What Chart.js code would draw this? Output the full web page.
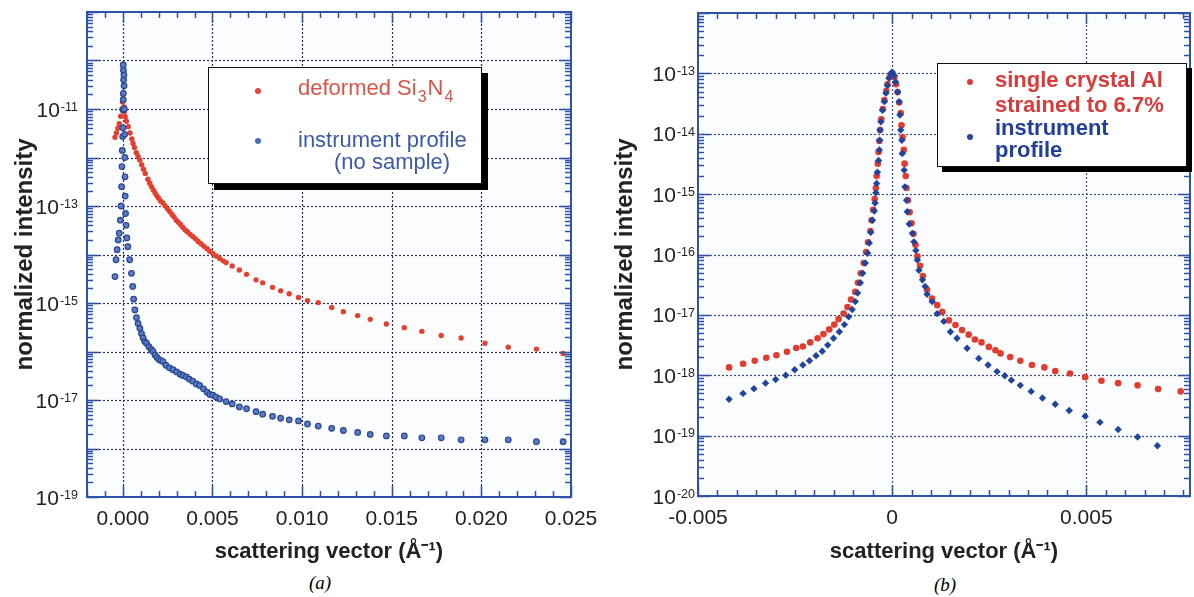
<!DOCTYPE html>
<html><head><meta charset="utf-8">
<script src="https://cdn.jsdelivr.net/npm/chart.js@4.4.1/dist/chart.umd.min.js"></script>
<style>
body{margin:0;background:#fff;width:1194px;height:597px;overflow:hidden;position:relative;font-family:"Liberation Sans",Arial,sans-serif}
canvas{position:absolute;top:0}
#cA{left:0}
#cB{left:597px}
.leg{position:absolute;background:#fff;border:1.5px solid #111;box-sizing:border-box}
.leg .t{position:absolute;white-space:nowrap;line-height:24px;font-size:22px}
.leg sub{font-size:16px;vertical-align:-7px;line-height:0;padding:0 1px}
.dot{position:absolute;width:6px;height:6px;border-radius:50%;margin:-3px 0 0 -3px}
.cap{position:absolute;font-family:"Liberation Serif","Times New Roman",serif;font-style:italic;font-size:19px;line-height:20px}
</style></head><body>
<canvas id="cA" width="597" height="570"></canvas>
<canvas id="cB" width="597" height="570"></canvas>

<div class="leg" style="left:208px;top:67px;width:274px;height:117px;box-shadow:6px 6px 0 #000">
  <span class="dot" style="left:49px;top:23px;background:#e0463a"></span>
  <span class="t" style="left:89px;top:8px;color:#d9554a">deformed Si<sub>3</sub>N<sub>4</sub></span>
  <span class="dot" style="left:49px;top:73px;background:#4a6bb5"></span>
  <span class="t" style="left:89px;top:60px;color:#3c5aa6">instrument profile</span>
  <span class="t" style="left:125px;top:82px;color:#3c5aa6">(no sample)</span>
</div>

<div class="leg" style="left:937px;top:63px;width:250px;height:104px;box-shadow:5px 5px 0 #000">
  <span class="dot" style="left:32px;top:18px;background:#e03a3a"></span>
  <span class="t" style="left:57px;top:4px;color:#d93a3a;font-weight:bold">single crystal Al</span>
  <span class="t" style="left:57px;top:29px;color:#d93a3a;font-weight:bold">strained to 6.7%</span>
  <span class="dot" style="left:32px;top:73px;background:#24449a"></span>
  <span class="t" style="left:57px;top:52px;color:#22409a;font-weight:bold">instrument</span>
  <span class="t" style="left:57px;top:74px;color:#22409a;font-weight:bold">profile</span>
</div>

<div class="cap" style="left:309px;top:573px">(a)</div>
<div class="cap" style="left:934px;top:575px">(b)</div>

<script>
// ---------- Panel (a): deformed Si3N4 vs instrument profile ----------
const leftRedX = [-0.00044,-0.00036,-0.00028,-0.0002,-0.00012,-0.00005,-0.00002,0.00001,0.00004,0.00006,0.00009,0.00013,0.0002,0.0003,0.0004,0.0005,0.00057,0.00065,0.00075,0.00085,0.00094,0.00105,0.00115,0.00125,0.0014,0.0015,0.0016,0.0017,0.0018,0.0019,0.002,0.00212,0.00224,0.00236,0.0025,0.00262,0.00275,0.00286,0.00298,0.0031,0.00322,0.00335,0.00348,0.0036,0.00375,0.0039,0.00405,0.0042,0.00436,0.00452,0.0047,0.00485,0.00502,0.0052,0.0054,0.0056,0.00576,0.0061,0.0065,0.0069,0.00743,0.0078,0.00835,0.0088,0.00928,0.0098,0.0103,0.0109,0.01165,0.0123,0.0131,0.0138,0.0147,0.0157,0.01668,0.01776,0.01887,0.0202,0.0215,0.02307,0.02456];
const leftRedY = [2.6e-12,3.2e-12,4.0e-12,5.0e-12,7.1e-12,1.0e-11,1.4e-11,2.0e-11,1.5e-11,1.1e-11,8.9e-12,6.9e-12,5.6e-12,4.3e-12,3.2e-12,2.4e-12,1.95e-12,1.6e-12,1.26e-12,1.05e-12,8.9e-13,7.1e-13,5.75e-13,4.7e-13,3.55e-13,2.95e-13,2.5e-13,2.14e-13,1.86e-13,1.62e-13,1.45e-13,1.26e-13,1.15e-13,1.0e-13,8.7e-14,7.6e-14,6.6e-14,5.9e-14,5.1e-14,4.6e-14,4.1e-14,3.6e-14,3.2e-14,2.95e-14,2.6e-14,2.35e-14,2.1e-14,1.86e-14,1.66e-14,1.48e-14,1.32e-14,1.17e-14,1.05e-14,9.3e-15,8.3e-15,7.4e-15,6.8e-15,5.8e-15,4.8e-15,3.9e-15,3.0e-15,2.6e-15,2.1e-15,1.78e-15,1.55e-15,1.3e-15,1.12e-15,1.02e-15,8.1e-16,6.6e-16,5.5e-16,4.6e-16,3.7e-16,3.1e-16,2.6e-16,2.14e-16,1.9e-16,1.48e-16,1.23e-16,1.12e-16,9.1e-17];

const leftBlueX = [-0.00044,-0.00038,-0.00032,-0.00026,-0.0002,-0.00014,-0.0001,-0.00007,-0.00005,-0.00003,-0.00001,0.0,0.00001,0.00002,0.00003,0.00004,0.00003,0.00002,0.00006,0.00007,0.00008,0.0001,0.00011,0.00012,0.00013,0.00015,0.00018,0.00022,0.00028,0.00038,0.00048,0.00055,0.0006,0.00067,0.00076,0.00085,0.00095,0.00104,0.00113,0.00122,0.00132,0.00145,0.00158,0.00168,0.0018,0.0019,0.002,0.00212,0.00224,0.0024,0.0026,0.0028,0.003,0.0032,0.00335,0.00354,0.0037,0.0039,0.0041,0.00428,0.0045,0.0047,0.00485,0.00502,0.0052,0.0054,0.00576,0.0061,0.0065,0.0069,0.00743,0.0078,0.00835,0.0088,0.00928,0.0098,0.0103,0.0109,0.01165,0.0123,0.0131,0.0138,0.0147,0.0157,0.01668,0.01776,0.01887,0.0202,0.0215,0.02307,0.02456];
const leftBlueY = [3.5e-15,7.8e-15,1.26e-14,2.0e-14,2.75e-14,5.1e-14,1.0e-13,2.5e-13,6.5e-13,1.4e-12,2.7e-12,4.1e-12,9.5e-12,1.55e-11,2.1e-11,4.0e-11,6.3e-11,8.1e-11,5.0e-11,3.0e-11,1.0e-11,3.0e-12,1.0e-12,4.0e-13,1.6e-13,7.0e-14,4.0e-14,2.2e-14,1.45e-14,7.8e-15,4.1e-15,2.2e-15,1.2e-15,7.2e-16,5.0e-16,3.8e-16,3.0e-16,2.34e-16,1.9e-16,1.6e-16,1.48e-16,1.26e-16,1.1e-16,1.0e-16,8.5e-17,7.6e-17,6.9e-17,6.5e-17,6.2e-17,5.2e-17,4.6e-17,4.2e-17,3.8e-17,3.4e-17,3.2e-17,3.0e-17,2.7e-17,2.45e-17,2.15e-17,2.0e-17,1.7e-17,1.45e-17,1.3e-17,1.26e-17,1.15e-17,1.05e-17,9.3e-18,8.3e-18,7.2e-18,6.6e-18,5.75e-18,5.1e-18,4.6e-18,4.2e-18,3.9e-18,3.7e-18,3.2e-18,2.9e-18,2.6e-18,2.35e-18,2.14e-18,1.95e-18,1.82e-18,1.82e-18,1.66e-18,1.66e-18,1.51e-18,1.51e-18,1.51e-18,1.38e-18,1.38e-18];

const leftXTicks = [0, 0.005, 0.010, 0.015, 0.020, 0.025];
const leftXLabels = ['0.000','0.005','0.010','0.015','0.020','0.025'];
const leftXGrid = [0, 0.005, 0.010, 0.015, 0.020];
const leftYTicks = [1e-19, 1e-17, 1e-15, 1e-13, 1e-11];
const leftYLabels = ['10^-19','10^-17','10^-15','10^-13','10^-11'];
const leftYGrid = [1e-18,1e-17,1e-16,1e-15,1e-14,1e-13,1e-12,1e-11,1e-10];

// ---------- Panel (b): single crystal Al vs instrument profile ----------
const rightRedX = [-0.0042,-0.00384,-0.00354,-0.00324,-0.00298,-0.00271,-0.00247,-0.0023,-0.00211,-0.00192,-0.00177,-0.00162,-0.00149,-0.00138,-0.00125,-0.00115,-0.00106,-0.00095,-0.00088,-0.00081,-0.00073,-0.00067,-0.00062,-0.00056,-0.00053,-0.00049,-0.00045,-0.00042,-0.0004,-0.00037,-0.00035,-0.00033,-0.00031,-0.00028,-0.00024,-0.0002,-0.00015,-0.00012,-0.00006,0,0.00006,0.0001,0.00014,0.00018,0.00022,0.00024,0.00027,0.0003,0.00032,0.00035,0.00037,0.00041,0.00045,0.0005,0.00055,0.0006,0.00065,0.00072,0.00079,0.0009,0.00103,0.00116,0.00129,0.00146,0.00163,0.0018,0.00197,0.00213,0.0023,0.00249,0.00266,0.00279,0.00304,0.0033,0.0036,0.00392,0.0042,0.00458,0.00497,0.00539,0.00582,0.00632,0.00685,0.00743];
const rightRedY = [1.35e-18,1.55e-18,1.74e-18,1.95e-18,2.14e-18,2.45e-18,2.82e-18,3.0e-18,3.5e-18,4.1e-18,4.8e-18,5.75e-18,6.9e-18,8.5e-18,1.05e-17,1.35e-17,1.8e-17,2.4e-17,3.4e-17,4.9e-17,7.2e-17,1.1e-16,1.6e-16,2.45e-16,3.7e-16,5.5e-16,8.3e-16,1.26e-15,2.0e-15,3.2e-15,5.0e-15,7.6e-15,1.15e-14,1.74e-14,2.57e-14,3.6e-14,5.1e-14,6.6e-14,8.7e-14,1.0e-13,8.7e-14,6.6e-14,4.9e-14,3.3e-14,2.2e-14,1.38e-14,8.7e-15,5.4e-15,3.2e-15,2.0e-15,1.26e-15,7.9e-16,5.0e-16,3.3e-16,2.2e-16,1.45e-16,9.3e-17,6.5e-17,4.4e-17,2.6e-17,1.86e-17,1.45e-17,1.12e-17,8.1e-18,6.8e-18,5.6e-18,4.7e-18,3.9e-18,3.5e-18,2.95e-18,2.6e-18,2.3e-18,2.0e-18,1.74e-18,1.48e-18,1.35e-18,1.17e-18,1.07e-18,9.3e-19,8.1e-19,7.4e-19,6.8e-19,5.9e-19,5.4e-19];

const rightBlueX = [-0.0042,-0.00384,-0.00356,-0.00326,-0.003,-0.00274,-0.00251,-0.0023,-0.00213,-0.00196,-0.0018,-0.00166,-0.00151,-0.00136,-0.00123,-0.00112,-0.00103,-0.00095,-0.00089,-0.00082,-0.00076,-0.00069,-0.00063,-0.00059,-0.00055,-0.00051,-0.00046,-0.00044,-0.00042,-0.0004,-0.00038,-0.00035,-0.00033,-0.00032,-0.00031,-0.00029,-0.00025,-0.0002,-0.00016,-0.00012,-0.00008,-0.00003,0,0.00005,0.00009,0.00014,0.00018,0.0002,0.00022,0.00025,0.00026,0.00031,0.00033,0.00037,0.00039,0.00044,0.00052,0.00056,0.00061,0.00065,0.00069,0.00078,0.00085,0.0009,0.00103,0.00116,0.00133,0.0015,0.00167,0.00193,0.00223,0.00247,0.0027,0.0029,0.00307,0.0033,0.00358,0.00387,0.0042,0.00456,0.00497,0.00535,0.00582,0.00632,0.00683];
const rightBlueY = [4.0e-19,5.0e-19,6.0e-19,7.4e-19,8.5e-19,1.0e-18,1.23e-18,1.48e-18,1.74e-18,2.1e-18,2.5e-18,3.16e-18,4.1e-18,5.25e-18,6.9e-18,9.3e-18,1.23e-17,1.66e-17,2.3e-17,3.4e-17,4.9e-17,7.2e-17,1.05e-16,1.55e-16,2.34e-16,3.7e-16,5.25e-16,7.1e-16,1.05e-15,1.5e-15,2.3e-15,3.6e-15,5.4e-15,7.8e-15,1.15e-14,1.58e-14,2.45e-14,3.4e-14,4.7e-14,6.3e-14,8.3e-14,1.0e-13,1.05e-13,9.3e-14,7.2e-14,4.9e-14,3.4e-14,2.04e-14,1.15e-14,7.8e-15,4.7e-15,2.5e-15,1.32e-15,7.9e-16,5.1e-16,3.2e-16,2.24e-16,1.62e-16,1.17e-16,8.1e-17,5.5e-17,3.8e-17,2.95e-17,2.2e-17,1.66e-17,1.05e-17,7.8e-18,5.25e-18,4.1e-18,2.8e-18,1.9e-18,1.48e-18,1.15e-18,9.8e-19,8.3e-19,6.8e-19,5.4e-19,4.2e-19,3.3e-19,2.6e-19,2.1e-19,1.66e-19,1.26e-19,9.5e-20,6.8e-20];

const rightXTicks = [-0.005, 0, 0.005];
const rightXLabels = ['-0.005','0','0.005'];
const rightXGrid = [0, 0.005];
const rightYTicks = [1e-20,1e-19,1e-18,1e-17,1e-16,1e-15,1e-14,1e-13];
const rightYLabels = ['10^-20','10^-19','10^-18','10^-17','10^-16','10^-15','10^-14','10^-13'];
const rightYGrid = [1e-19,1e-18,1e-17,1e-16,1e-15,1e-14,1e-13];

const FONT = '"Liberation Sans", Arial, Helvetica, sans-serif';
Chart.defaults.font.family = FONT;

const frameGrid = {
  id: 'frameGrid',
  beforeDatasetsDraw(chart, args, o) {
    const {ctx, chartArea: a, scales: {x, y}} = chart;
    ctx.save();
    ctx.fillStyle = o.bg;
    ctx.fillRect(a.left, a.top, a.right - a.left, a.bottom - a.top);
    ctx.strokeStyle = o.gridColor;
    ctx.lineWidth = 1.2;
    ctx.setLineDash([2, 2]);
    o.xGrid.forEach(v => {
      const px = Math.round(x.getPixelForValue(v)) + 0.5;
      ctx.beginPath(); ctx.moveTo(px, a.top); ctx.lineTo(px, a.bottom); ctx.stroke();
    });
    o.yGrid.forEach(v => {
      const py = Math.round(y.getPixelForValue(v)) + 0.5;
      ctx.beginPath(); ctx.moveTo(a.left, py); ctx.lineTo(a.right, py); ctx.stroke();
    });
    ctx.restore();
  },
  afterDatasetsDraw(chart, args, o) {
    const {ctx, chartArea: a, scales: {x, y}} = chart;
    ctx.save();
    ctx.strokeStyle = o.frameColor;
    ctx.lineWidth = 1.5;
    const s = o.xMinor;
    for (let i = Math.ceil(x.min / s - 1e-6); i <= Math.floor(x.max / s + 1e-6); i++) {
      const v = i * s;
      const r = v / o.xMajor;
      const major = Math.abs(r - Math.round(r)) < 1e-6;
      const len = major ? 11 : 6;
      const px = Math.round(x.getPixelForValue(v)) + 0.5;
      ctx.beginPath();
      ctx.moveTo(px, a.bottom); ctx.lineTo(px, a.bottom - len);
      ctx.moveTo(px, a.top); ctx.lineTo(px, a.top + len);
      ctx.stroke();
    }
    const e0 = Math.floor(Math.log10(y.min)), e1 = Math.ceil(Math.log10(y.max));
    for (let e = e0; e <= e1; e++) {
      for (let k = 1; k <= 9; k++) {
        const v = k * Math.pow(10, e);
        if (v < y.min * 0.999 || v > y.max * 1.001) continue;
        const len = k === 1 ? 12 : 6;
        const py = Math.round(y.getPixelForValue(v)) + 0.5;
        ctx.beginPath();
        ctx.moveTo(a.left, py); ctx.lineTo(a.left + len, py);
        ctx.moveTo(a.right, py); ctx.lineTo(a.right - len, py);
        ctx.stroke();
      }
    }
    ctx.lineWidth = 2;
    ctx.strokeRect(a.left, a.top, a.right - a.left, a.bottom - a.top);
    ctx.restore();
  },
  afterDraw(chart, args, o) {
    // power-of-ten tick labels on the y axis: "10" with a raised exponent
    const {ctx, chartArea: a, scales: {y}} = chart;
    ctx.save();
    ctx.fillStyle = '#222';
    o.yTicks.forEach((v, i) => {
      const [base, exp] = o.yLabels[i].split('^');
      const py = y.getPixelForValue(v);
      ctx.font = '21px ' + FONT;
      const wb = ctx.measureText(base).width;
      ctx.font = '12.5px ' + FONT;
      const we = ctx.measureText(exp).width;
      const right = a.left - o.yPad;
      ctx.textAlign = 'left';
      ctx.textBaseline = 'alphabetic';
      ctx.font = '21px ' + FONT;
      ctx.fillText(base, right - we - wb - 1, py + 7.5);
      ctx.font = '12.5px ' + FONT;
      ctx.fillText(exp, right - we, py + 1.8);
    });
    ctx.restore();
  }
};

function pts(xs, ys) { return xs.map((v, i) => ({x: v, y: ys[i]})); }
function noPad(s) { s.paddingTop = 0; s.paddingBottom = 0; s.paddingLeft = 0; s.paddingRight = 0; }

function makeChart(id, cfg) {
  return new Chart(document.getElementById(id), {
    type: 'scatter',
    data: {datasets: cfg.datasets},
    options: {
      responsive: false,
      animation: false,
      devicePixelRatio: 1,
      layout: {padding: cfg.padding},
      plugins: {
        legend: {display: false},
        tooltip: {enabled: false},
        frameGrid: {bg: '#fbfcfe', gridColor: cfg.gridColor, frameColor: '#2d52a8',
          xGrid: cfg.xGrid, yGrid: cfg.yGrid, xMinor: cfg.xMinor, xMajor: 0.005,
          yTicks: cfg.yTicks, yLabels: cfg.yLabels, yPad: cfg.yPad}
      },
      scales: {
        x: {
          type: 'linear', min: cfg.xMin, max: cfg.xMax,
          grid: {display: false, drawTicks: false}, border: {display: false},
          afterBuildTicks: s => { s.ticks = cfg.xTicks.map(v => ({value: v})); },
          afterFit: s => { s.height = cfg.xAxisH; noPad(s); },
          ticks: {autoSkip: false, maxRotation: 0, padding: 10, color: '#222',
            font: {size: 21}, callback: (v, i) => cfg.xLabels[i]},
          title: {display: true, text: 'scattering vector (Å⁻¹)', color: '#222',
            font: {size: 22, weight: 'bold'}, padding: {top: 0, bottom: 5}}
        },
        y: {
          type: 'logarithmic', min: cfg.yMin, max: cfg.yMax,
          grid: {display: false, drawTicks: false}, border: {display: false},
          afterBuildTicks: s => { s.ticks = cfg.yTicks.map(v => ({value: v})); },
          afterFit: s => { s.width = cfg.yAxisW; noPad(s); },
          ticks: {display: false},
          title: {display: true, text: 'normalized intensity', color: '#222',
            font: {size: 24, weight: 'bold'}, padding: {top: cfg.yTitlePad, bottom: 0}}
        }
      }
    },
    plugins: [frameGrid]
  });
}

makeChart('cA', {
  padding: {left: 0, right: 26, top: 12, bottom: 0},
  xAxisH: 73, yAxisW: 87, yPad: 9, yTitlePad: 11,
  xMin: -0.002, xMax: 0.025, yMin: 1e-19, yMax: 1e-9,
  xTicks: leftXTicks, xLabels: leftXLabels, yTicks: leftYTicks, yLabels: leftYLabels,
  xGrid: leftXGrid, yGrid: leftYGrid, xMinor: 0.001, gridColor: '#27305e',
  datasets: [
    {label: 'instrument profile (no sample)', data: pts(leftBlueX, leftBlueY),
     pointStyle: 'circle', pointRadius: 2.8, backgroundColor: '#5a7cc4', borderColor: '#2a4590', borderWidth: 1.2},
    {label: 'deformed Si3N4', data: pts(leftRedX, leftRedY),
     pointStyle: 'circle', pointRadius: 2.7, backgroundColor: '#e4402f', borderWidth: 0}
  ]
});

makeChart('cB', {
  padding: {left: 0, right: 2, top: 13, bottom: 0},
  xAxisH: 74, yAxisW: 101, yPad: 3, yTitlePad: 14,
  xMin: -0.005, xMax: 0.00767, yMin: 1e-20, yMax: 1e-12,
  xTicks: rightXTicks, xLabels: rightXLabels, yTicks: rightYTicks, yLabels: rightYLabels,
  xGrid: rightXGrid, yGrid: rightYGrid, xMinor: 0.0005, gridColor: '#3a4a8a',
  datasets: [
    {label: 'instrument profile', data: pts(rightBlueX, rightBlueY),
     pointStyle: 'rectRot', pointRadius: 3.7, backgroundColor: '#22459c', borderWidth: 0},
    {label: 'single crystal Al strained to 6.7%', data: pts(rightRedX, rightRedY),
     pointStyle: 'circle', pointRadius: 3.3, backgroundColor: '#e03c30', borderWidth: 0}
  ]
});
</script>
</body></html>
